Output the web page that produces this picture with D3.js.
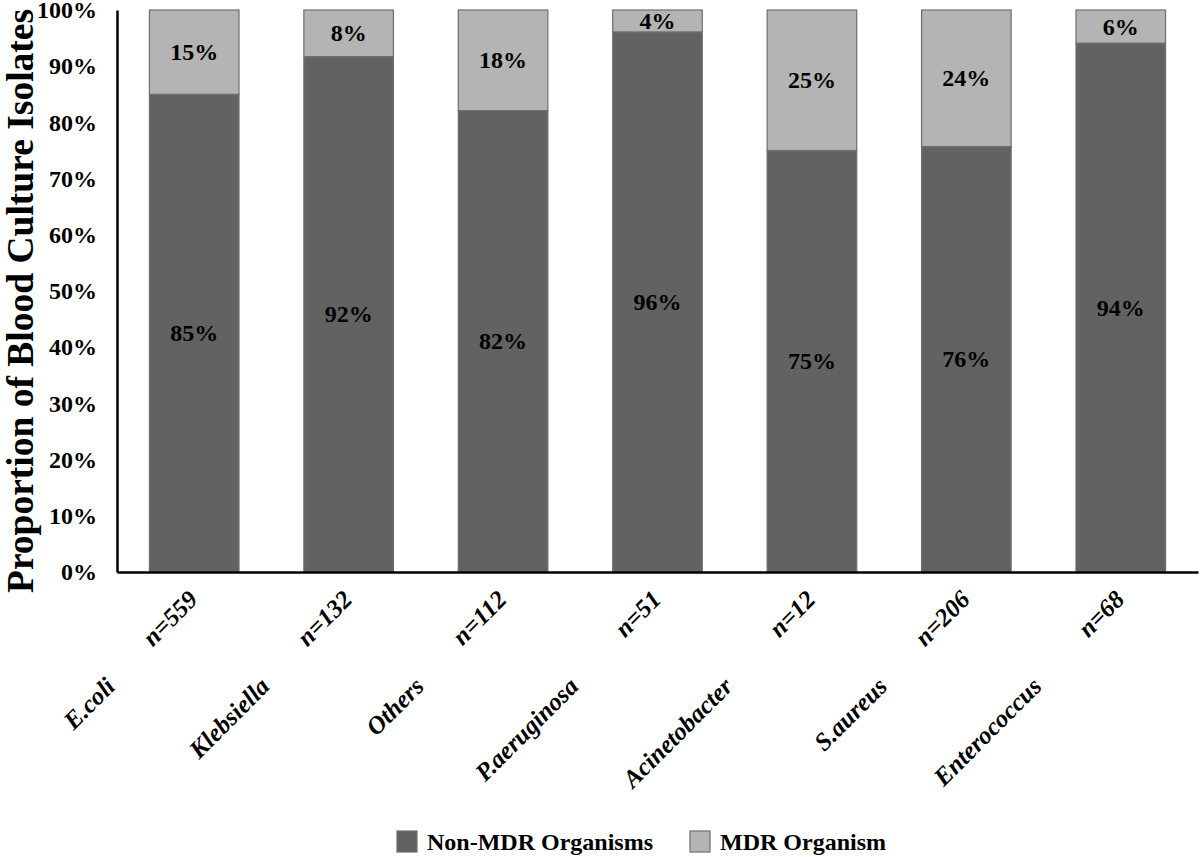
<!DOCTYPE html>
<html><head><meta charset="utf-8">
<script src="https://cdn.jsdelivr.net/npm/d3@7"></script>
<style>body{margin:0;background:#fff}svg{display:block}text{font-family:"Liberation Serif","Times New Roman",serif;font-weight:bold}</style>
</head><body><svg id="c" width="1200" height="857"></svg>
<script>
const categories = ["E.coli","Klebsiella","Others","P.aeruginosa","Acinetobacter","S.aureus","Enterococcus"];
const counts = [559,132,112,51,12,206,68];
const nonMDR = [85.0,91.7,82.1,96.1,75.0,75.7,94.1];
const mdr = [15.0,8.3,17.9,3.9,25.0,24.3,5.9];
const yTicks = [0,10,20,30,40,50,60,70,80,90,100];
const seriesNames = ["Non-MDR Organisms","MDR Organism"];
const colors = ["#626262","#b4b4b4"];

const svg = d3.select("#c");
const mLeft=117, mRight=1198, mTop=10, mBottom=572;
const x = d3.scaleBand().domain(categories).range([mLeft,mRight]).paddingInner(0.42).paddingOuter(0.21);
const y = d3.scaleLinear().domain([0,100]).range([mBottom,mTop]);

const rows = categories.map((c,i)=>({c, a:nonMDR[i], b:mdr[i], n:counts[i]}));

// bars
const g = svg.append("g");
rows.forEach(r=>{
  g.append("rect").attr("x",x(r.c)).attr("width",x.bandwidth())
    .attr("y",y(r.a)).attr("height",y(0)-y(r.a))
    .attr("fill",colors[0]).attr("stroke","#6e6e6e").attr("stroke-width",1.2);
  g.append("rect").attr("x",x(r.c)).attr("width",x.bandwidth())
    .attr("y",y(r.a+r.b)).attr("height",y(r.a)-y(r.a+r.b))
    .attr("fill",colors[1]).attr("stroke","#6e6e6e").attr("stroke-width",1.2);
  g.append("text").attr("x",x(r.c)+x.bandwidth()/2).attr("y",y(r.a/2))
    .attr("text-anchor","middle").attr("dominant-baseline","central")
    .attr("font-size",24).text(Math.round(r.a)+"%");
  g.append("text").attr("x",x(r.c)+x.bandwidth()/2).attr("y",y(r.a+r.b/2))
    .attr("text-anchor","middle").attr("dominant-baseline","central")
    .attr("font-size",24).text(Math.round(r.b)+"%");
});

// axes
const yAxis = svg.append("g").attr("transform",`translate(${mLeft},0)`)
  .call(d3.axisLeft(y).tickValues(yTicks).tickSize(0).tickPadding(20).tickFormat(d=>d+"%"));
yAxis.select(".domain").attr("stroke","#000").attr("stroke-width",2.5);
yAxis.selectAll("text").attr("font-size",24).attr("fill","#000")
  .attr("font-family","Liberation Serif").attr("font-weight","bold");

const xAxis = svg.append("g").attr("transform",`translate(0,${mBottom})`)
  .call(d3.axisBottom(x).tickSize(0).tickFormat(""));
xAxis.select(".domain").attr("stroke","#000").attr("stroke-width",2.5);

// x labels (rotated)
rows.forEach(r=>{
  const cx = x(r.c)+x.bandwidth()/2;
  const lg = svg.append("g").attr("transform",`translate(${cx+5},${mBottom+29}) rotate(-45)`);
  const t = lg.append("text").attr("text-anchor","end").attr("font-size",25).attr("font-style","italic");
  t.append("tspan").text("n");
  t.append("tspan").text("="+r.n);
  lg.append("text").attr("x",-120).attr("y",3).attr("text-anchor","end").attr("font-size",25)
    .attr("font-style","italic").text(r.c);
});

// y title
svg.append("text").attr("transform","translate(33,301) rotate(-90)")
  .attr("text-anchor","middle").attr("font-size",37.5).text("Proportion of Blood Culture Isolates");

// legend
const legX=[397,690];
seriesNames.forEach((s,i)=>{
  svg.append("rect").attr("x",legX[i]).attr("y",831).attr("width",20).attr("height",21)
    .attr("fill",colors[i]).attr("stroke","#6e6e6e").attr("stroke-width",1.2);
  svg.append("text").attr("x",legX[i]+30).attr("y",842).attr("dominant-baseline","central")
    .attr("font-size",24).text(s);
});
</script></body></html>
